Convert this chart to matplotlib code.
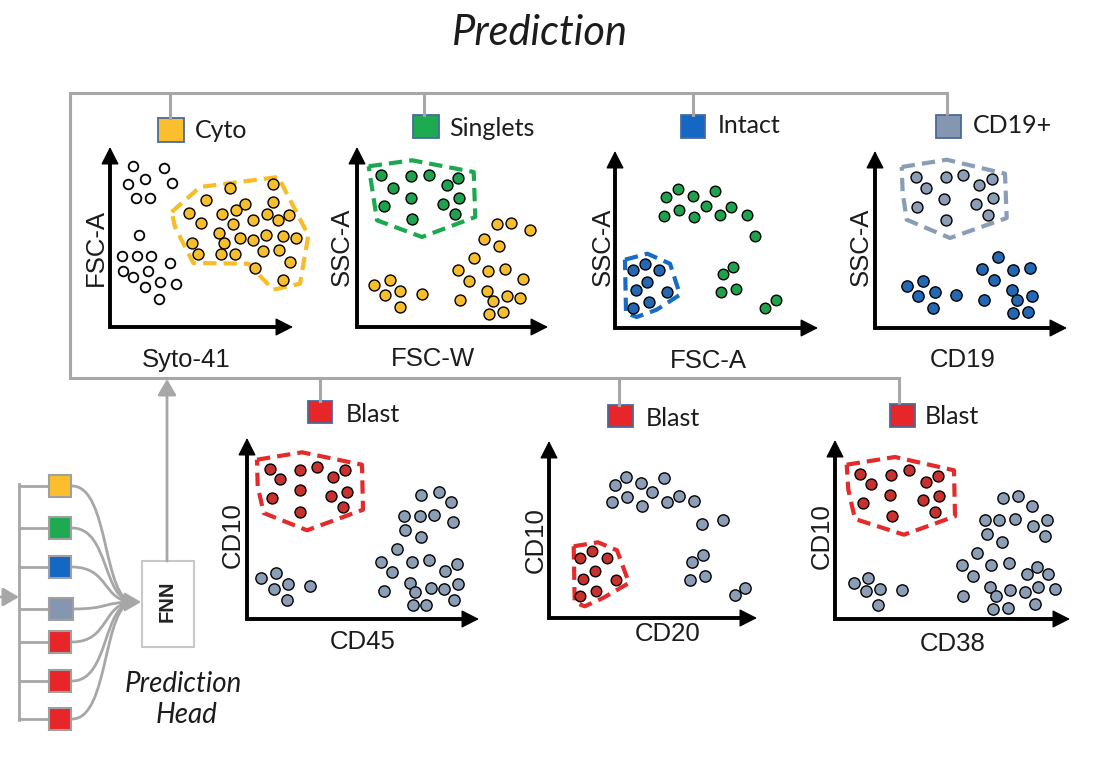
import matplotlib
matplotlib.use("Agg")
import matplotlib.pyplot as plt
from matplotlib.patches import Rectangle, PathPatch
from matplotlib.path import Path

# ---------------- data (panel-local units, origin at axis corner) ----------------
# Panel 1: Syto-41 vs FSC-A (Cyto)
cyto_open = [(22.7,160.7),(54,159.3),(35,148.3),(18.3,142.7),(62.3,144),(26,129.3),(40,129.3),
             (29,91.7),(11.7,70.7),(26.7,70.7),(40.7,70.7),(60,64),(12.7,56),(38.3,56),(22.7,50),
             (50,45),(65.7,42.7),(35,40),(49.3,28.3)]
cyto_in = [(120,139.3),(163.3,143.3),(96,127.3),(135,123.3),(126,116.7),(163.3,125),(79.3,114),
           (111.7,113.3),(156.7,113.3),(179.3,111.7),(143.3,106.7),(90.7,104),(123.3,102.7),
           (168.3,106.7),(109.3,94),(130,89.3),(142.7,87.3),(156,91.7),(172.7,90.7),(186,89.3),
           (81.7,84.3),(114,84),(153.3,76),(169.3,76.7),(88.3,73.3),(110.7,72.7),(125,72.7),
           (180,65),(145,59.3),(172.7,46.7)]
cyto_gate = [(61.7,115),(90,140),(168.3,150),(198.3,91.7),(190,43.3),(163.3,37.3),(138.3,63.3),
             (83.3,64),(65,100)]
# Panel 2: FSC-W vs SSC-A (Singlets)
sing_in = [(24,151.7),(54,150.7),(71.7,152.3),(100.7,149.3),(90,141.7),(36,139.3),(54,129.3),
           (102.3,129.3),(26.7,120.7),(86,123.3),(98.3,112.7),(55,108.3)]
sing_out = [(16.7,41.7),(32.7,46.7),(28.3,31.7),(43.3,36),(43.3,20),(65,33.3),(140,102.7),
            (154,104),(173.3,97.3),(126.7,88.3),(141.7,81),(117.3,69.3),(100.7,56.7),(130.7,56),
            (148.3,58.3),(166,48.3),(111.7,46),(130,36),(136,26),(150,30.7),(163.3,29.3),
            (103.3,26.7),(131.7,13.3),(146,15)]
sing_gate = [(11.7,160.7),(55,166.7),(116.7,155),(118.3,110),(65,90),(20,106.7)]
# Panel 3: FSC-A vs SSC-A (Intact)
int_out = [(51,131),(63.3,139),(78.3,131.7),(100,137.3),(49,112.3),(64,117.7),(79,110.7),
           (90.7,122.3),(105,113.3),(115.7,121),(131.7,113.3),(140,91.7),(118.3,61),(108.3,54.3),
           (121,39.3),(106,36),(150,20),(161,27.7)]
int_in = [(30,64.3),(18.3,58.3),(44.3,57.7),(32.3,45.7),(21,38.3),(52.3,36),(34.3,25.7),(17.7,20)]
int_gate = [(10,68.3),(32.3,74.3),(55,64.3),(65,33.3),(41.7,18.3),(21.7,11),(11,15)]
# Panel 4: CD19 vs SSC-A (CD19+)
cd19_in = [(41,151),(71,151),(87.7,152.7),(116.7,149.3),(104.3,143.3),(51,140),(69.3,129.3),
           (117.7,130),(42.3,121),(101,124),(113.3,113.3),(71,108.3)]
cd19_out = [(31.7,41.7),(47.7,46.7),(43.3,31.7),(60,36),(58.3,20),(81,33.3),(123.3,71),
            (106.7,59.3),(137.7,58.3),(155,60),(119,47.7),(136.7,37.7),(109,28.3),(142.3,27.7),
            (156.7,31.7),(138.3,15),(153.3,16)]
cd19_gate = [(26.7,161),(71.7,168.3),(130,154.3),(131.7,110),(75,90),(31.7,108.3),(27.7,135)]
# Panel 5: CD45 vs CD10 (Blast)
cd45_in = [(22.7,150),(53.3,149.3),(70,152),(98.3,148.7),(33.3,140),(86,142),(52.7,128.7),
           (100,126.7),(25,121),(84.3,123.3),(96,111.7),(52.7,106.7)]
cd45_out = [(14,41),(29.3,46),(26.7,30),(40.7,35.3),(62.7,32.7),(40,19.3),(174,124.3),
            (191.7,126.7),(204,116.7),(157.3,103.3),(172.7,103.3),(187.3,104.3),(205.7,96.7),
            (158.3,88.7),(174,82),(150,70),(134,56.7),(165,56.7),(182.3,58.7),(210,55.3),
            (145,46.7),(198.3,48.3),(162.7,36),(184,31),(196.7,30),(210.7,35),(136.7,27.7),
            (168.3,26.7),(206.7,18.7),(165.7,13.7),(179.3,13.7)]
cd45_gate = [(10,159.3),(55,166.7),(115,154.3),(116,109.3),(60,88.7),(16.7,106),(10.7,132.7)]
# Panel 6: CD20 vs CD10 (Blast)
cd20_in = [(43.3,66.7),(31.3,60),(58,60),(45.7,46.7),(34,39.3),(67.3,38.3),(47.3,27.3),(31.3,21.7)]
cd20_out = [(65.7,133.3),(77.3,141),(92.3,135),(114.7,140),(103.3,125.7),(63.3,115.7),(78,121),
            (93.3,112.3),(118,115.7),(130,122.3),(144.7,116.7),(153.3,94.3),(174,98.3),
            (154,62.7),(143.3,56),(141.3,37.7),(156.3,41.7),(185.7,23.3),(196.3,30)]
cd20_gate = [(24.7,71.7),(49,75.7),(68,67.7),(80,35),(54,20),(35.7,11.7),(25.7,15.7)]
# Panel 7: CD38 vs CD10 (Blast)
cd38_in = [(25,145.3),(56,144.3),(74.3,148.7),(103.3,143.3),(35.7,135.3),(90.7,136.7),(55,123.7),
           (104.3,122.7),(28.3,116),(87.7,119.3),(100,106.7),(56.7,102.7)]
cd38_out = [(19,36),(33.3,41),(31,27.7),(45,30),(66.7,28.7),(43.3,13.7),(167.7,121),(182.7,123.3),
            (196.7,113.3),(150,98.7),(164.3,98.7),(180,100),(197.7,93.3),(211.7,99.3),(152.3,85.3),
            (210,83.3),(166.7,77),(142.3,66),(126.7,53.7),(155.7,53.7),(174.3,56),(201.7,52),
            (137.7,42.7),(191.7,45),(213.3,45),(155,32),(175,28.7),(190,27),(203.3,32),(220,30),
            (128.3,23.3),(160.7,22.7),(158.3,10),(172.7,11),(200,15.3)]
cd38_gate = [(11.7,154.3),(60,162),(119,148.7),(120,102.7),(69,84.3),(20,100),(13.3,129.3)]

gate_names = ["Cyto", "Singlets", "Intact", "CD19+", "Blast", "Blast", "Blast"]
x_labels = ["Syto-41", "FSC-W", "FSC-A", "CD19", "CD45", "CD20", "CD38"]
y_labels = ["FSC-A", "SSC-A", "SSC-A", "SSC-A", "CD10", "CD10", "CD10"]
head_colors = ["#FBBF2D", "#1EAA50", "#1467C2", "#8597B0", "#E8262A", "#E8262A", "#E8262A"]

# ---------------- colours ----------------
YEL = "#F6BD2C"; GRN = "#1FA24E"; BLU = "#2468B3"; GRY = "#8C9EB6"; RED = "#C8322E"
GATE_YEL = "#F7BC26"; GATE_GRN = "#1BA84E"; GATE_BLU = "#176BC3"; GATE_GRY = "#8A9DB6"; GATE_RED = "#E42A2A"
LINE = "#A7A7A7"
TXT = "#1c1c1c"

W_PX, H_PX = 1102, 765
fig = plt.figure(figsize=(W_PX/100, H_PX/100), dpi=100)
ax0 = fig.add_axes([0, 0, 1, 1])
ax0.set_xlim(0, W_PX); ax0.set_ylim(H_PX, 0); ax0.axis("off")

LATO = ["Lato", "DejaVu Sans"]
ARIAL = ["Liberation Sans", "DejaVu Sans"]

# title
ax0.text(540, 45, "Prediction", fontsize=30, style="italic", family=LATO, color=TXT,
         ha="center", va="baseline")

# ---------------- frame lines ----------------
lw_f = 2.2
ax0.plot([947, 947, 70, 70, 899, 899], [115, 93, 93, 378, 378, 404], color=LINE, lw=lw_f,
         solid_joinstyle="miter", solid_capstyle="butt")
for xd, y1 in [(170, 118), (424, 115), (693, 115)]:
    ax0.plot([xd, xd], [93, y1], color=LINE, lw=lw_f)
for xd, y1 in [(320, 401), (619, 405)]:
    ax0.plot([xd, xd], [378, y1], color=LINE, lw=lw_f)

# legend boxes + names
boxes = [(158,118,184,142),(413,115,439,138),(681,115,705,138),(936,115,961,138),
         (308,401,332,423),(608,405,633,427),(890,404,915,427)]
name_pos = [(195,138),(449,136),(718,133),(973,133),(346,422),(646,426),(925,424)]
for (x0, y0, x1, y1), col, nm, (tx, ty) in zip(boxes, head_colors, gate_names, name_pos):
    ax0.add_patch(Rectangle((x0, y0), x1-x0, y1-y0, facecolor=col, edgecolor="#4A6A9E", lw=1.3))
    ax0.text(tx, ty, nm, fontsize=18, family=LATO, color=TXT, ha="left", va="baseline")

# ---------------- left prediction head ----------------
stack_y = [486, 528, 567, 609, 642, 681, 719]
ax0.plot([19, 19], [484, 720], color=LINE, lw=2.0)
for yy, col in zip(stack_y, head_colors):
    ax0.plot([19, 49], [yy, yy], color=LINE, lw=2.0)
for yy, col in zip(stack_y, head_colors):
    wbox = 24 if col == "#8597B0" else 22
    ax0.add_patch(Rectangle((49, yy-11), wbox, 22, facecolor=col, edgecolor="#A0A0A0", lw=1.5, zorder=3))
conv = (134, 602)
for yy in stack_y:
    verts = [(72, yy), (110, yy), (102, conv[1]), conv]
    ax0.add_patch(PathPatch(Path(verts, [Path.MOVETO, Path.CURVE4, Path.CURVE4, Path.CURVE4]),
                            fill=False, edgecolor=LINE, lw=2.0))
ax0.annotate("", xy=(141, 602), xytext=(128, 602),
             arrowprops=dict(arrowstyle="-|>,head_length=0.6,head_width=0.35", color=LINE,
                             lw=1.5, shrinkA=0, shrinkB=0, mutation_scale=17))
ax0.annotate("", xy=(19, 597), xytext=(0, 597),
             arrowprops=dict(arrowstyle="-|>,head_length=0.6,head_width=0.35", color=LINE,
                             lw=2.0, shrinkA=0, shrinkB=0, mutation_scale=16))
ax0.add_patch(Rectangle((142, 561), 52, 86, facecolor="white", edgecolor="#C8C8C8", lw=1.5))
ax0.text(167, 601, "FNN", fontsize=14.5, family=ARIAL, weight="bold", color="#222222",
         rotation=90, ha="center", va="center")
ax0.annotate("", xy=(167, 379), xytext=(167, 561),
             arrowprops=dict(arrowstyle="-|>,head_length=0.6,head_width=0.35", color=LINE,
                             lw=2.0, shrinkA=0, shrinkB=0, mutation_scale=16))
ax0.text(183, 692, "Prediction", fontsize=20, style="italic", family=LATO, color=TXT,
         ha="center", va="baseline")
ax0.text(187, 723, "Head", fontsize=20, style="italic", family=LATO, color=TXT,
         ha="center", va="baseline")

# ---------------- scatter panels ----------------
# origin (px), axis lengths (px)
panels = [
    dict(o=(110, 327), W=183, H=180, xl=(186, 367), yl=(103, 247)),
    dict(o=(357, 327), W=191, H=180, xl=(433, 366), yl=(349, 247)),
    dict(o=(615, 328), W=203, H=177, xl=(708, 368), yl=(610, 247)),
    dict(o=(875, 328), W=192, H=177, xl=(963, 367), yl=(868, 247)),
    dict(o=(247, 619), W=232, H=181, xl=(363, 649), yl=(240, 535)),
    dict(o=(549, 618), W=208, H=177, xl=(668, 641), yl=(543, 540)),
    dict(o=(835, 619), W=235, H=179, xl=(953, 651), yl=(829, 536)),
]
groups = [
    [(cyto_open, "white", 48, 1.3), (cyto_in, YEL, 62, 1.0)],
    [(sing_in, GRN, 62, 1.0), (sing_out, YEL, 62, 1.0)],
    [(int_out, GRN, 58, 1.0), (int_in, BLU, 62, 1.0)],
    [(cd19_in, GRY, 62, 1.0), (cd19_out, BLU, 66, 1.0)],
    [(cd45_in, RED, 62, 1.0), (cd45_out, GRY, 66, 1.0)],
    [(cd20_in, RED, 58, 1.0), (cd20_out, GRY, 66, 1.0)],
    [(cd38_in, RED, 62, 1.0), (cd38_out, GRY, 66, 1.0)],
]
gates = [(cyto_gate, GATE_YEL), (sing_gate, GATE_GRN), (int_gate, GATE_BLU), (cd19_gate, GATE_GRY),
         (cd45_gate, GATE_RED), (cd20_gate, GATE_RED), (cd38_gate, GATE_RED)]

for i, p in enumerate(panels):
    ox, oy = p["o"]; W = p["W"]; H = p["H"]
    ax = fig.add_axes([ox / W_PX, (H_PX - oy) / H_PX, W / W_PX, H / H_PX])
    ax.set_xlim(0, W); ax.set_ylim(0, H); ax.axis("off"); ax.patch.set_alpha(0)
    # axes arrows
    ax.plot([0, 0, W - 10], [H - 10, 0, 0], color="black", lw=2.8, solid_joinstyle="miter",
            solid_capstyle="butt", clip_on=False)
    for xy, xyt in [((W, 0), (W - 12, 0)), ((0, H), (0, H - 12))]:
        ax.annotate("", xy=xy, xytext=xyt,
                    arrowprops=dict(arrowstyle="-|>,head_length=0.55,head_width=0.28", color="black",
                                    lw=1, shrinkA=0, shrinkB=0, mutation_scale=20),
                    annotation_clip=False)
    # gate
    gpts, gcol = gates[i]
    gx = [q[0] for q in gpts] + [gpts[0][0]]
    gy = [q[1] for q in gpts] + [gpts[0][1]]
    ax.plot(gx, gy, color=gcol, lw=3.0, linestyle=(0, (3.2, 1.7)), clip_on=False, zorder=2,
            solid_joinstyle="miter")
    # points
    for pts, col, s, lw in groups[i]:
        ax.scatter([q[0] for q in pts], [q[1] for q in pts], s=s, c=col, edgecolors="black",
                   linewidths=lw, zorder=3, clip_on=False)
    # labels
    xl = p["xl"]; yl = p["yl"]
    ax0.text(xl[0], xl[1], x_labels[i], fontsize=18.5, family=ARIAL, color=TXT,
             ha="center", va="baseline")
    ax0.text(yl[0], yl[1], y_labels[i], fontsize=18.5, family=ARIAL, color=TXT, rotation=90,
             rotation_mode="anchor", ha="center", va="baseline")

fig.savefig("out.png", dpi=100)
